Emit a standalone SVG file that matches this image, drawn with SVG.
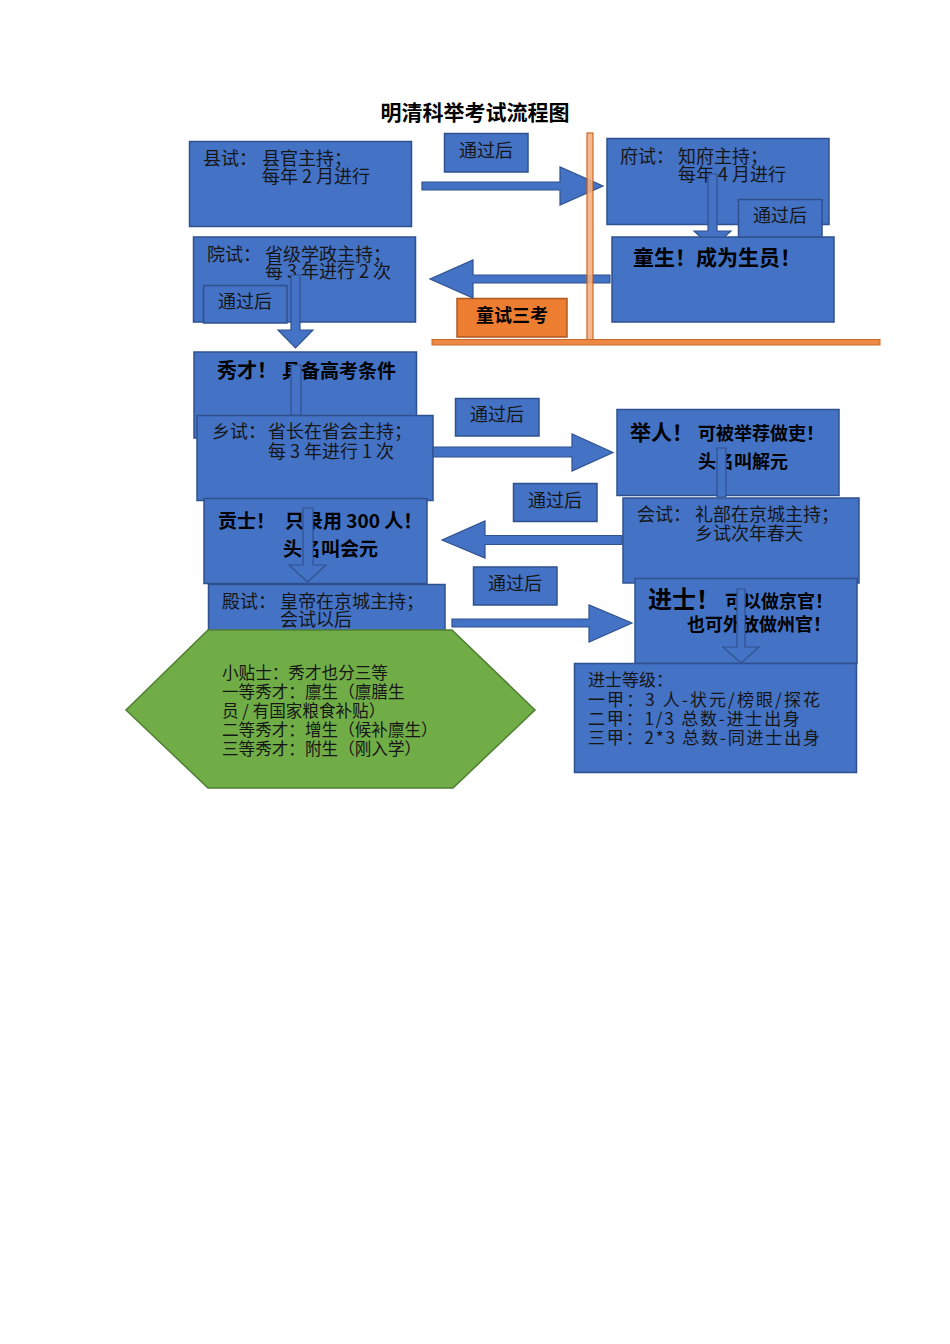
<svg xmlns="http://www.w3.org/2000/svg" width="950" height="1344" viewBox="0 0 950 1344">
<style>
.box{fill:#4472C4;stroke:#2F528F;stroke-width:1.5}
.lbl{fill:#4472C4;stroke:#2F528F;stroke-width:1.5}
.arr{fill:#4472C4;stroke:#2F528F;stroke-width:1.2}
.t{font-family:"Noto Sans CJK SC","Liberation Sans",sans-serif;font-size:18px;fill:#161616}
.s{font-size:16.6px}
.d{font-size:17px}
.b{font-weight:bold;fill:#000}
.c{text-anchor:middle}
</style>
<rect width="950" height="1344" fill="#fff"/>
<text id="title" class="t b c" x="475" y="120" style="font-size:21px">明清科举考试流程图</text>

<g id="n-xianshi">
<rect class="box" x="189.5" y="141.5" width="222" height="85"/>
<text class="t" x="203" y="165">县试：<tspan x="262">县官主持；</tspan></text>
<text class="t" x="262" y="183">每年 2 月进行</text>
</g>
<g id="n-fushi">
<rect class="box" x="607" y="138.5" width="222" height="86"/>
<text class="t" x="620" y="163">府试：<tspan x="678">知府主持；</tspan></text>
<text class="t" x="678" y="181">每年 4 月进行</text>
</g>
<g id="n-tongsheng">
<rect class="box" x="612" y="237" width="222" height="85"/>
<text class="t b" x="633" y="265" style="font-size:21px">童生！成为生员！</text>
</g>
<g id="n-yuanshi">
<rect class="box" x="193.5" y="237" width="222" height="85"/>
<text class="t" x="207" y="261">院试：<tspan x="265">省级学政主持；</tspan></text>
<text class="t" x="265" y="278">每 3 年进行 2 次</text>
</g>
<g id="n-tongshi">
<rect x="457" y="298.5" width="110" height="38.5" fill="#ED7D31" stroke="#AE5A21" stroke-width="1.5"/>
<text class="t b c" x="512" y="322">童试三考</text>
</g>
<g id="n-xiucai">
<rect class="box" x="194" y="352" width="222.5" height="86"/>
<text class="t b" x="217" y="378" style="font-size:20px">秀才！<tspan x="282" style="font-size:19px">具备高考条件</tspan></text>
</g>
<g id="n-xiangshi">
<rect class="box" x="197" y="415.5" width="236" height="85"/>
<text class="t" x="212" y="438">乡试：<tspan x="268">省长在省会主持；</tspan></text>
<text class="t" x="268" y="458">每 3 年进行 1 次</text>
</g>
<g id="n-gongshi">
<rect class="box" x="204" y="498.5" width="223" height="85"/>
<text class="t b" x="218" y="528" style="font-size:19px">贡士！<tspan x="285">只录用 300 人！</tspan></text>
<text class="t b" x="283" y="556" style="font-size:19px">头名叫会元</text>
</g>
<g id="n-dianshi">
<rect class="box" x="208.5" y="584.5" width="236.5" height="60"/>
<text class="t" x="222" y="608">殿试：<tspan x="280">皇帝在京城主持；</tspan></text>
<text class="t" x="280" y="626">会试以后</text>
</g>
<g id="n-tip">
<polygon points="208,630 452,630 535,710 453,788 208,788 126,710" fill="#70AD47" stroke="#507E32" stroke-width="1.5"/>
<text class="t s" x="222" y="679">小贴士：秀才也分三等</text>
<text class="t s" x="222" y="698">一等秀才：廪生（廪膳生</text>
<text class="t s" x="222" y="717">员 / 有国家粮食补贴）</text>
<text class="t s" x="222" y="736">二等秀才：增生（候补廪生）</text>
<text class="t s" x="222" y="755">三等秀才：附生（刚入学）</text>
</g>
<g id="n-juren">
<rect class="box" x="617" y="409.5" width="222" height="86"/>
<text class="t b" x="630" y="440" style="font-size:21px">举人！<tspan x="698" style="font-size:18px">可被举荐做吏！</tspan></text>
<text class="t b" x="698" y="468">头名叫解元</text>
</g>
<g id="n-huishi">
<rect class="box" x="623" y="498" width="236" height="85"/>
<text class="t" x="637" y="521">会试：<tspan x="695">礼部在京城主持；</tspan></text>
<text class="t" x="695" y="540">乡试次年春天</text>
</g>
<g id="n-jinshi">
<rect class="box" x="635" y="578.5" width="222" height="85"/>
<text class="t b" x="648" y="608" style="font-size:24px">进士！<tspan x="725" style="font-size:18px">可以做京官！</tspan></text>
<text class="t b" x="687" y="631">也可外放做州官！</text>
</g>
<g id="n-dengji">
<rect class="box" x="574.5" y="663.5" width="282" height="109"/>
<text class="t d" x="588" y="686">进士等级：</text>
<text class="t d" x="588" y="706" textLength="232" lengthAdjust="spacing">一甲：3 人-状元/榜眼/探花</text>
<text class="t d" x="588" y="725" textLength="212" lengthAdjust="spacing">二甲：1/3 总数-进士出身</text>
<text class="t d" x="588" y="744" textLength="232" lengthAdjust="spacing">三甲：2*3 总数-同进士出身</text>
</g>

<g id="connectors">
<polygon class="arr" points="422,182 560,182 560,167 603,186 560,205 560,190 422,190"/>
<polygon class="arr" points="708,174 717,174 717,231 731,231 724.5,237 700.5,237 694,231 708,231"/>
<polygon class="arr" points="610,275 473,275 473,260 430,279 473,298 473,283 610,283"/>
<polygon class="arr" points="291,275 300,275 300,330 313,330 295.5,348 278,330 291,330"/>
<polygon class="arr" points="291,365 301,365 301,415 291,415"/>
<polygon class="arr" points="433,447 572,447 572,434 613,452.5 572,471 572,457 433,457"/>
<polygon class="arr" points="303,508 313,508 313,565 326,565 307.5,582 289,565 303,565"/>
<polygon class="arr" points="717,448 726,448 726,497 717,497"/>
<polygon class="arr" points="622,535.5 485,535.5 485,521 442,540 485,558 485,544.5 622,544.5"/>
<polygon class="arr" points="452,619 589,619 589,605 632,623 589,642 589,627 452,627"/>
<polygon class="arr" points="737,589 745,589 745,647 759,647 741,663 723,647 737,647"/>
</g>

<g id="bracket" opacity="0.9">
<rect x="587" y="133" width="6" height="207" fill="#F4B183" stroke="#C55A11" stroke-width="1.2"/>
<rect x="432" y="339.5" width="448" height="5.5" fill="#ED7D31" stroke="#C55A11" stroke-width="1"/>
</g>

<g id="l1"><rect class="lbl" x="444.5" y="133.5" width="83.5" height="38.5"/><text class="t c" x="486" y="157">通过后</text></g>
<g id="l2"><rect class="lbl" x="738.5" y="199.5" width="83.5" height="37.5"/><text class="t c" x="780" y="222">通过后</text></g>
<g id="l3"><rect class="lbl" x="203.5" y="285.5" width="83.5" height="37.5"/><text class="t c" x="245" y="308">通过后</text></g>
<g id="l4"><rect class="lbl" x="455.5" y="398.5" width="83.5" height="37.5"/><text class="t c" x="497" y="421">通过后</text></g>
<g id="l5"><rect class="lbl" x="513.5" y="483.5" width="83.5" height="38"/><text class="t c" x="555" y="507">通过后</text></g>
<g id="l6"><rect class="lbl" x="473.5" y="567" width="83.5" height="38"/><text class="t c" x="515" y="590">通过后</text></g>
</svg>
